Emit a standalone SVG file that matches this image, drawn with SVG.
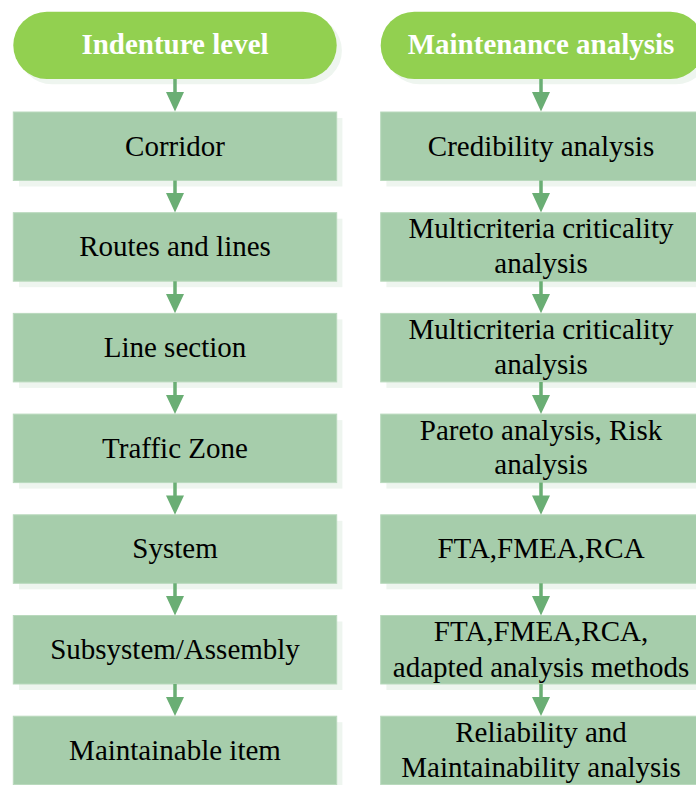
<svg xmlns="http://www.w3.org/2000/svg" width="696" height="785" viewBox="0 0 696 785">
  <style>
    .shadow { fill: #eef5ef; }
    .head { fill: #92d050; }
    .box { fill: #a6cdab; stroke: #b9d9bd; stroke-width: 1; }
    .htxt { font-family: "Liberation Serif", "Times New Roman", serif; font-size: 29px; font-weight: bold; fill: #ffffff; text-anchor: middle; }
    .txt { font-family: "Liberation Serif", "Times New Roman", serif; font-size: 29px; fill: #000000; text-anchor: middle; }
    .stem { stroke: #6aae74; stroke-width: 3.5; fill: none; }
    .tip { fill: #6aae74; }
  </style>
  <rect width="696" height="785" fill="#ffffff"/>

  <!-- left column: indenture levels -->
  <g id="indenture-level">
    <rect class="shadow" x="18.5" y="17" width="323.4" height="67.3" rx="33.6"/>
    <rect class="head" x="13.3" y="11.7" width="323.4" height="67.3" rx="33.6"/>
    <text class="htxt" x="175" y="54">Indenture level</text>
  </g>
  <g id="corridor">
    <rect class="shadow" x="19" y="118" width="323.4" height="68.5"/>
    <rect class="box" x="13.3" y="112" width="323.4" height="68.5"/>
    <text class="txt" x="175" y="155.5">Corridor</text>
  </g>
  <g id="routes-and-lines">
    <rect class="shadow" x="19" y="218.7" width="323.4" height="68.5"/>
    <rect class="box" x="13.3" y="212.7" width="323.4" height="68.5"/>
    <text class="txt" x="175" y="256">Routes and lines</text>
  </g>
  <g id="line-section">
    <rect class="shadow" x="19" y="319.4" width="323.4" height="68.5"/>
    <rect class="box" x="13.3" y="313.4" width="323.4" height="68.5"/>
    <text class="txt" x="175" y="357">Line section</text>
  </g>
  <g id="traffic-zone">
    <rect class="shadow" x="19" y="420.1" width="323.4" height="68.5"/>
    <rect class="box" x="13.3" y="414.1" width="323.4" height="68.5"/>
    <text class="txt" x="175" y="457.5">Traffic Zone</text>
  </g>
  <g id="system">
    <rect class="shadow" x="19" y="520.8" width="323.4" height="68.5"/>
    <rect class="box" x="13.3" y="514.8" width="323.4" height="68.5"/>
    <text class="txt" x="175" y="558">System</text>
  </g>
  <g id="subsystem-assembly">
    <rect class="shadow" x="19" y="621.5" width="323.4" height="68.5"/>
    <rect class="box" x="13.3" y="615.5" width="323.4" height="68.5"/>
    <text class="txt" x="175" y="659">Subsystem/Assembly</text>
  </g>
  <g id="maintainable-item">
    <rect class="shadow" x="19" y="722.2" width="323.4" height="68.5"/>
    <rect class="box" x="13.3" y="716.2" width="323.4" height="68.5"/>
    <text class="txt" x="175" y="760">Maintainable item</text>
  </g>

  <!-- right column: maintenance analyses -->
  <g id="maintenance-analysis">
    <rect class="shadow" x="386" y="17" width="323.4" height="67.3" rx="33.6"/>
    <rect class="head" x="380.7" y="11.7" width="323.4" height="67.3" rx="33.6"/>
    <text class="htxt" x="541" y="54">Maintenance analysis</text>
  </g>
  <g id="credibility-analysis">
    <rect class="shadow" x="386.4" y="118" width="323.4" height="68.5"/>
    <rect class="box" x="380.7" y="112" width="323.4" height="68.5"/>
    <text class="txt" x="541" y="155.5">Credibility analysis</text>
  </g>
  <g id="multicriteria-1">
    <rect class="shadow" x="386.4" y="218.7" width="323.4" height="68.5"/>
    <rect class="box" x="380.7" y="212.7" width="323.4" height="68.5"/>
    <text class="txt" x="541" y="237.5">Multicriteria criticality</text>
    <text class="txt" x="541" y="272.5">analysis</text>
  </g>
  <g id="multicriteria-2">
    <rect class="shadow" x="386.4" y="319.4" width="323.4" height="68.5"/>
    <rect class="box" x="380.7" y="313.4" width="323.4" height="68.5"/>
    <text class="txt" x="541" y="338.5">Multicriteria criticality</text>
    <text class="txt" x="541" y="373.5">analysis</text>
  </g>
  <g id="pareto-risk">
    <rect class="shadow" x="386.4" y="420.1" width="323.4" height="68.5"/>
    <rect class="box" x="380.7" y="414.1" width="323.4" height="68.5"/>
    <text class="txt" x="541" y="440">Pareto analysis, Risk</text>
    <text class="txt" x="541" y="474">analysis</text>
  </g>
  <g id="fta-fmea-rca">
    <rect class="shadow" x="386.4" y="520.8" width="323.4" height="68.5"/>
    <rect class="box" x="380.7" y="514.8" width="323.4" height="68.5"/>
    <text class="txt" x="541" y="558">FTA,FMEA,RCA</text>
  </g>
  <g id="fta-adapted">
    <rect class="shadow" x="386.4" y="621.5" width="323.4" height="68.5"/>
    <rect class="box" x="380.7" y="615.5" width="323.4" height="68.5"/>
    <text class="txt" x="541" y="641">FTA,FMEA,RCA,</text>
    <text class="txt" x="541" y="676.5">adapted analysis methods</text>
  </g>
  <g id="reliability-maintainability">
    <rect class="shadow" x="386.4" y="722.2" width="323.4" height="68.5"/>
    <rect class="box" x="380.7" y="716.2" width="323.4" height="68.5"/>
    <text class="txt" x="541" y="742">Reliability and</text>
    <text class="txt" x="541" y="777">Maintainability analysis</text>
  </g>

  <!-- connectors: stem + triangular head, one per gap -->
  <g id="connectors">
    <path class="stem" d="M175 79 V93 M175 180.5 V194 M175 281.2 V295 M175 381.9 V396 M175 482.6 V497 M175 583.3 V597 M175 684 V698"/>
    <path class="tip" d="M166 92 H184 L175 111.5 Z M166 193 H184 L175 212.5 Z M166 294 H184 L175 313.2 Z M166 395 H184 L175 414 Z M166 495.5 H184 L175 514.7 Z M166 596 H184 L175 615.4 Z M166 697 H184 L175 716.1 Z"/>
    <path class="stem" d="M541 79 V93 M541 180.5 V194 M541 281.2 V295 M541 381.9 V396 M541 482.6 V497 M541 583.3 V597 M541 684 V698"/>
    <path class="tip" d="M532 92 H550 L541 111.5 Z M532 193 H550 L541 212.5 Z M532 294 H550 L541 313.2 Z M532 395 H550 L541 414 Z M532 495.5 H550 L541 514.7 Z M532 596 H550 L541 615.4 Z M532 697 H550 L541 716.1 Z"/>
  </g>
</svg>
